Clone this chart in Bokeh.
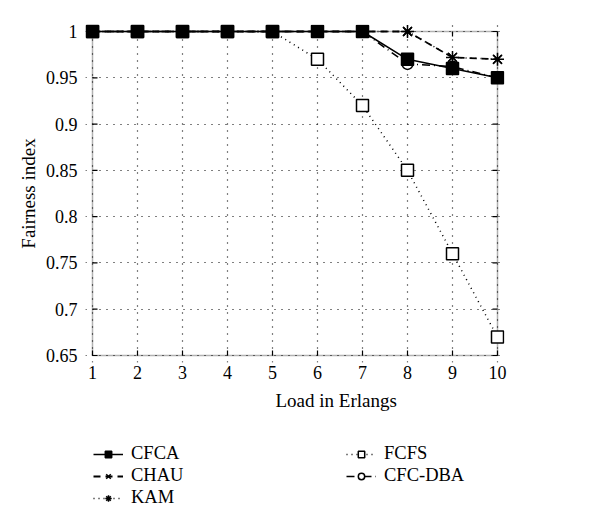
import math
from bokeh.plotting import figure
from bokeh.models import (Range1d, FixedTicker, Legend, LegendItem, BoxAnnotation, Title)
from bokeh.layouts import column
from bokeh.embed import file_html
from bokeh.resources import INLINE

load = [1, 2, 3, 4, 5, 6, 7, 8, 9, 10]
cfca = [1, 1, 1, 1, 1, 1, 1, 0.970, 0.960, 0.950]
chau = [1, 1, 1, 1, 1, 1, 1, 1.000, 0.972, 0.970]
kam = [1, 1, 1, 1, 1, 1, 1, 1.000, 0.972, 0.970]
fcfs = [1, 1, 1, 1, 1, 0.970, 0.920, 0.850, 0.760, 0.670]
cfcdba = [1, 1, 1, 1, 1, 1, 1, 0.965, 0.962, 0.950]

x_ticks = [1, 2, 3, 4, 5, 6, 7, 8, 9, 10]
y_ticks = [0.65, 0.7, 0.75, 0.8, 0.85, 0.9, 0.95, 1.0]
y_labels = ["0.65", "0.7", "0.75", "0.8", "0.85", "0.9", "0.95", "1"]
x_lim = (1, 10)
y_lim = (0.65, 1.0)

FONT = "Liberation Serif"

# ranges padded a little so edge markers are not clipped; the box is drawn separately
PADPX = 7
xpad = PADPX / 45.0
ypad = PADPX / 925.7
p = figure(width=584, height=425, output_backend="svg", toolbar_location=None,
           x_range=Range1d(x_lim[0] - xpad, x_lim[1] + xpad),
           y_range=Range1d(y_lim[0] - ypad, y_lim[1] + ypad),
           min_border_left=92 - PADPX, min_border_right=584 - 497 - PADPX,
           min_border_top=31 - PADPX, min_border_bottom=425 - 355 - PADPX)
p.background_fill_color = "white"
p.border_fill_color = "white"
p.outline_line_color = None

for ax in (p.xaxis[0], p.yaxis[0]):
    ax.axis_line_color = None
    ax.major_tick_line_color = None
    ax.minor_tick_line_color = None
    ax.major_label_text_font = FONT
    ax.major_label_text_font_size = "18px"
    ax.major_label_text_color = "black"
    ax.axis_label_text_font = FONT
    ax.axis_label_text_font_size = "19px"
    ax.axis_label_text_font_style = "normal"
    ax.axis_label_text_color = "black"

p.xaxis[0].ticker = FixedTicker(ticks=x_ticks)
p.yaxis[0].ticker = FixedTicker(ticks=y_ticks)
p.yaxis[0].major_label_overrides = {t: l for t, l in zip(y_ticks, y_labels)}
p.yaxis[0].axis_label = "Fairness index"
p.xaxis[0].major_label_standoff = -3
p.yaxis[0].major_label_standoff = 2
p.yaxis[0].axis_label_standoff = 4

# x axis title, placed as in the reference (slightly right of centre)
p.add_layout(Title(text="Load in Erlangs", align="left", offset=190, standoff=12,
                   text_font=FONT, text_font_size="19px", text_font_style="normal",
                   text_color="black"), "below")

p.xgrid.ticker = FixedTicker(ticks=x_ticks)
p.ygrid.ticker = FixedTicker(ticks=y_ticks)
p.xgrid.bounds = y_lim
p.ygrid.bounds = x_lim
for g in (p.xgrid[0], p.ygrid[0]):
    g.grid_line_color = "black"
    g.grid_line_dash = "1 6"
    g.grid_line_width = 1.2

# axes box and inward ticks
p.add_layout(BoxAnnotation(left=x_lim[0], right=x_lim[1], bottom=y_lim[0], top=y_lim[1],
                           fill_alpha=0, line_color="black", line_width=1.5,
                           level="underlay"))
tick_kw = dict(length=5, length_units="screen", line_color="black", line_width=1.2,
               level="underlay")
p.ray(x=x_ticks, y=[y_lim[0]] * len(x_ticks), angle=math.pi / 2, **tick_kw)
p.ray(x=x_ticks, y=[y_lim[1]] * len(x_ticks), angle=-math.pi / 2, **tick_kw)
p.ray(x=[x_lim[0]] * len(y_ticks), y=y_ticks, angle=0, **tick_kw)
p.ray(x=[x_lim[1]] * len(y_ticks), y=y_ticks, angle=math.pi, **tick_kw)

STYLES = {
    "FCFS": dict(y=fcfs, dash="1 4", marker="square", size=12, fill="white", lw=1.5),
    "CFC-DBA": dict(y=cfcdba, dash="8 4 1 4", marker="circle", size=11, fill="white", lw=1.5),
    "KAM": dict(y=kam, dash="1 4", marker="asterisk", size=13, fill=None, lw=1.5),
    "CHAU": dict(y=chau, dash="7 5", marker="x", size=11, fill=None, lw=1.8),
    "CFCA": dict(y=cfca, dash="solid", marker="square", size=12, fill="black", lw=1.5),
}


def draw(fig, name, visible=True):
    s = STYLES[name]
    l = fig.line(load, s["y"], line_color="black", line_dash=s["dash"],
                 line_width=s["lw"], visible=visible)
    kw = dict(marker=s["marker"], size=s["size"], line_color="black", line_width=1.5,
              visible=visible)
    if s["fill"] is not None:
        kw["fill_color"] = s["fill"]
    m = fig.scatter(load, s["y"], **kw)
    return [l, m]


for name in ["FCFS", "CFC-DBA", "KAM", "CHAU", "CFCA"]:
    draw(p, name)

# legend panel below the chart (its frame is aligned with the chart's frame)
leg = figure(width=584, height=88, output_backend="svg", toolbar_location=None,
             x_range=Range1d(-100, -99), y_range=Range1d(-100, -99),
             x_axis_location=None, y_axis_location=None,
             min_border=0, outline_line_color=None)
leg.grid.visible = False
rends = {name: draw(leg, name, visible=False) for name in STYLES}

legend = Legend(items=[
    LegendItem(label="CFCA", renderers=rends["CFCA"]),
    LegendItem(label="CHAU", renderers=rends["CHAU"]),
    LegendItem(label="KAM", renderers=rends["KAM"]),
    LegendItem(label="FCFS", renderers=rends["FCFS"]),
    LegendItem(label="CFC-DBA", renderers=rends["CFC-DBA"]),
], ncols=2, location=(8, 5), orientation="vertical")
legend.label_text_font = FONT
legend.label_text_font_size = "18.5px"
legend.label_text_color = "black"
legend.glyph_width = 30
legend.glyph_height = 16
legend.label_standoff = 8
legend.label_width = 214
legend.label_height = 16
legend.spacing = 1
legend.padding = 0
legend.margin = 0
legend.border_line_color = None
legend.background_fill_alpha = 0
legend.inactive_fill_alpha = 0
legend.click_policy = "none"
leg.add_layout(legend, "center")

layout = column(p, leg, spacing=0)
open("out.html", "w").write(file_html(layout, INLINE))
